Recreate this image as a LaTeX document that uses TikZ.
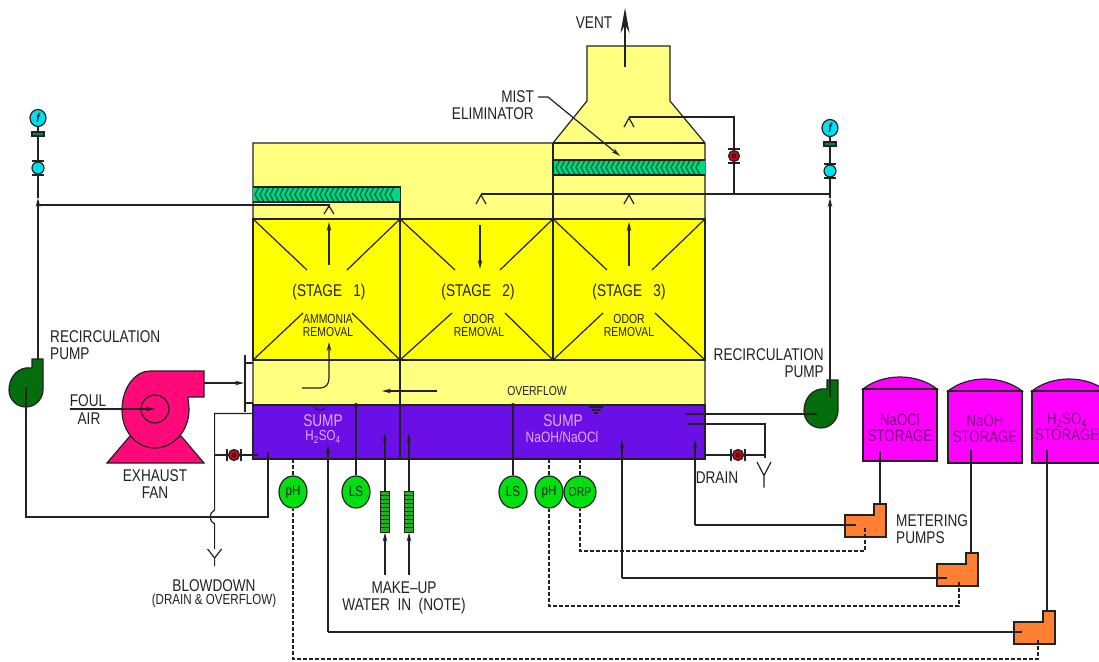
\documentclass[tikz,border=0pt]{standalone}
\usepackage{fontspec}
\setmainfont[FakeStretch=0.8]{Liberation Sans}
\usepackage{tikz}
\usetikzlibrary{arrows.meta,positioning,shapes.geometric}
\definecolor{palebody}{HTML}{FFFF80}
\definecolor{stagefill}{HTML}{FFFF00}
\definecolor{sumpfill}{HTML}{6A10E6}
\definecolor{sumptext}{HTML}{E8A8FF}
\definecolor{pumpgreen}{HTML}{046E0C}
\definecolor{fanpink}{HTML}{FF0A78}
\definecolor{tankfill}{HTML}{FF00FF}
\definecolor{tanktext}{HTML}{7A0A80}
\definecolor{meterfill}{HTML}{FF8033}
\definecolor{instgreen}{HTML}{00E010}
\definecolor{strainergreen}{HTML}{20B020}
\definecolor{flowcyan}{HTML}{00E0F0}
\definecolor{mistfill}{HTML}{00D880}
\definecolor{mistdark}{HTML}{006A40}
\definecolor{valvered}{HTML}{C00818}
\definecolor{inkline}{HTML}{222222}
\newcommand{\pt}[1]{\fontsize{#1}{#1}\selectfont}
\tikzset{
  recircpump/.pic={
    \draw[pipe,fill=pumpgreen] (43,359) -- (32,359) -- (32,368) .. controls (18,366) and (9,377) .. (9,390) .. controls (9,400) and (17,407) .. (26,407) .. controls (36,407) and (43,398) .. (43,390) -- cycle;
  },
  inlinevalve/.pic={
    \draw[pipe,fill=valvered] (0,0) circle[radius=5.5pt];
    \draw[line width=.5pt,fill=valvered!70!black] (0,0) circle[radius=2pt];
    \draw[pipe] (-6,-7) -- (6,-7) (-6,7) -- (6,7);
  },
  meterpump/.pic={
    \draw[pipe,fill=meterfill] (0,11) -- (29,11) -- (29,0) -- (41,0) -- (41,33) -- (0,33) -- cycle;
  },
  drainy/.pic={
    \draw[pipe] (-7,0) -- (0,9) -- (7,0) (0,9) -- (0,17);
  }
}
\begin{document}
\begin{tikzpicture}[x=1pt,y=-1pt, >=Stealth, font=\pt{17},
  every node/.style={text=inkline,inner sep=0pt,align=center},
  pipe/.style={draw=inkline,line width=1.2pt},
  signal/.style={pipe,dash pattern=on 4pt off 2pt},
  flow/.style={pipe,-{Stealth[length=9pt,width=4.5pt]}},
  small/.style={font=\pt{13}},
  sumplabel/.style={text=sumptext},
  inst/.style={ellipse,draw=inkline,line width=1.2pt,fill=instgreen,minimum width=28pt,minimum height=32pt,font=\pt{14.5}},
  tanklabel/.style={text=tanktext,font=\pt{16.5}},
]
\path[use as bounding box,clip] (0,0) rectangle (1099,661);
\fill[white] (0,0) rectangle (1099,661);

% tower body
\draw[pipe,fill=palebody] (253,143) -- (553,143) -- (587,101) -- (587,46) -- (670,46) -- (670,101) -- (705,143) -- (705,405) -- (253,405) -- cycle;
\draw[pipe,fill=stagefill] (253,219) rectangle (705,360);
\draw[pipe,fill=sumpfill] (253,405) rectangle (705,459);
\draw[pipe] (553,143) -- (705,143);
\draw[pipe,line width=1.5pt] (553,143) -- (553,360);
\draw[pipe] (400,186) -- (400,459);

% mist eliminators
\fill[mistfill] (253,187) rectangle (400,202);
\foreach \x in {255,260,...,392} \draw[mistdark,line width=1.4pt] (\x+4,187) -- (\x,194.5) -- (\x+4,202);
\draw[pipe] (253,187) -- (400,187) (253,202) -- (400,202);
\fill[mistfill] (554,160) rectangle (705,175);
\foreach \x in {556,561,...,696} \draw[mistdark,line width=1.4pt] (\x+4,160) -- (\x,167.5) -- (\x+4,175);
\draw[pipe] (554,160) -- (705,160) (554,175) -- (705,175);

% packing diagonals
\foreach \xa/\xb/\xc/\xd/\xe/\xf in {253/307/303/400/347/352,400/455/452/553/500/505,553/607/603/705/652/655} {
  \draw[pipe] (\xa,219) -- (\xb,270) (\xd,219) -- (\xe,270) (\xa,360) -- (\xc,313) (\xd,360) -- (\xf,313);
}

% labels inside the tower
\node (stageone) at (329,292) {(STAGE\ \ \ 1)};
\node (stagetwo) at (478,292) {(STAGE\ \ \ 2)};
\node (stagethree) at (629,292) {(STAGE\ \ \ 3)};
\node[small] (ammonia) at (328,325.5) {AMMONIA\\REMOVAL};
\node[small] (odortwo) at (479,325.5) {ODOR\\REMOVAL};
\node[small] (odorthree) at (629,325.5) {ODOR\\REMOVAL};
\node[small] (overflow) at (537,391) {OVERFLOW};
\node[sumplabel] (sumpacid) at (323,421) {SUMP};
\node[sumplabel,font=\pt{14.5}] (acid) at (323,437) {H\textsubscript{2}SO\textsubscript{4}};
\node[sumplabel] (sumpbase) at (563,421) {SUMP};
\node[sumplabel,font=\pt{15}] (base) at (562,437) {NaOH/NaOCl};

% gas flow inside the tower
\draw[flow] (329,265) -- (329,222);
\draw[flow] (480,225) -- (480,269);
\draw[flow] (629,266) -- (629,222);
\draw[flow] (302,388) -- (320,388) .. controls (326,388) and (329,384) .. (329,378) -- (329,342);
\draw[flow] (437,391) -- (382,391);
\draw[pipe] (589,407) -- (603,407) (591.5,410) -- (600.5,410) (594,413) -- (598,413);
\draw[pipe] (314,407) .. controls (317,411) and (323,411) .. (326,407);
\draw[pipe,-{Stealth[length=25pt,width=9pt]}] (625,67) -- (625,8);
\node (vent) at (594,23) {VENT};

% spray headers
\coordinate (leftriser) at (38,205);
\coordinate (rightriser) at (830,194);
\coordinate (topvalve) at (734,156);
\draw[pipe] (leftriser) -- (329,205) -- (329,208);
\draw[pipe] (324,214) -- (329,206) -- (334,214);
\draw[pipe] (rightriser) -- (481,194);
\draw[pipe] (476,204) -- (481,195) -- (486,204);
\draw[pipe] (624,204) -- (629,195) -- (634,204);
\draw[pipe] (734,194) -- (topvalve) -- (734,117) -- (629,117);
\draw[pipe] (624,127) -- (629,118) -- (634,127);
\pic at (topvalve) {inlinevalve};

% left recirculation loop
\pic at (0,0) {recircpump};
\pic at (795,21) {recircpump};
\draw[flow] (38,359) -- (38,198);
\draw[pipe] (38,198) -- (38,126);
\draw[flow] (830,397) -- (830,198);
\draw[pipe] (830,198) -- (830,136);
\draw[pipe] (26,387) -- (26,517) -- (268,517) -- (268,452);
\draw[pipe] (685,414) -- (817,414);

% flow elements
\foreach \x/\ya/\yb/\yc/\yd/\name in {38/118/134/168/7/lefttop,830/128/144/171/7/righttop} {
  \node[ellipse,draw=inkline,line width=1.2pt,fill=flowcyan,minimum width=16pt,minimum height=17pt,font=\pt{13}\bfseries\itshape] (fe\name) at (\x,\ya) {f};
  \fill[pipe,fill=mistdark!80!flowcyan] (\x-6,\yb-2) rectangle (\x+6,\yb+2);
  \node[circle,draw=inkline,line width=1.2pt,fill=flowcyan,minimum size=12pt] (ro\name) at (\x,\yc) {};
  \draw[pipe] (\x-6,\yc-\yd) -- (\x+6,\yc-\yd) (\x-6,\yc+\yd) -- (\x+6,\yc+\yd);
}

% exhaust fan
\draw[pipe,fill=fanpink] (107,463) -- (204,463) -- (181,436) -- (130,436) -- cycle;
\fill[fanpink] (204,371) -- (150,371) .. controls (135,371) and (122,388) .. (122,410) .. controls (122,432) and (137,448) .. (155,448) .. controls (174,448) and (189,430) .. (189,410) .. controls (189,405) and (188,400) .. (188,397) -- (204,397) -- cycle;
\draw[pipe] (122,410) .. controls (122,388) and (135,371) .. (150,371) -- (204,371) -- (204,397) -- (188,397);
\draw[pipe] (122,410) .. controls (122,432) and (137,448) .. (155,448) .. controls (174,448) and (189,430) .. (189,410) .. controls (189,405) and (188,400) .. (188,397);
\node[circle,draw=inkline,line width=1.2pt,minimum size=28pt] (fanhub) at (155,409) {};
\draw[flow] (70,409) -- (155,409);
\draw[flow] (204,383) -- (244,383);
\draw[pipe] (245,355) -- (245,412) (245,363) -- (253,363) (245,403) -- (253,403);
\node (foul) at (88,401) {FOUL};
\node (air) at (89,419) {AIR};
\node (exhaust) at (155,484.5) {EXHAUST\\FAN};
\node[align=left,anchor=west] (pumpleft) at (50,345.5) {RECIRCULATION\\PUMP};
\node[align=right,anchor=east] (pumpright) at (824,363) {RECIRCULATION\\PUMP};
\node[align=right,anchor=east] (mist) at (534,105) {MIST\\ELIMINATOR};
\draw[pipe,-{Stealth[length=9pt,width=4.5pt]}] (538,97) -- (548,97) -- (620,156);

% blowdown and drain
\coordinate (lowvalve) at (234,455);
\coordinate (drainvalve) at (738,455);
\draw[pipe] (253,413.4) -- (214.6,413.4) -- (214.6,510) .. controls (208.6,513) and (208.6,521) .. (214.6,524) -- (214.6,549);
\draw[pipe] (258,455) -- (lowvalve) -- (214.6,455);
\pic[rotate=90] at (lowvalve) {inlinevalve};
\pic at (214.6,549) {drainy};
\node (blowdown) at (214,586) {BLOWDOWN};
\node[font=\pt{14.5}] (blowsub) at (214,601) {(DRAIN \& OVERFLOW)};
\draw[pipe] (687,424) -- (765,424) -- (765,458);
\draw[pipe] (705,455) -- (drainvalve) -- (765,455);
\pic[rotate=90] at (drainvalve) {inlinevalve};
\pic[yscale=1.5] at (764,462) {drainy};
\node (drain) at (717,478) {DRAIN};

% instruments
\node[inst] (phacid) at (293,492) {pH};
\node[inst] (lsacid) at (356,492) {LS};
\node[inst] (lsbase) at (513,492) {LS};
\node[inst] (phbase) at (549,492) {pH};
\node[inst,font=\pt{13}] (orp) at (580,492) {ORP};
\draw[pipe] (lsacid) -- (356,405);
\draw[pipe] (lsbase) -- (513,405);
\fill[inkline] (356,405) circle[radius=2pt] (513,405) circle[radius=2pt];
\draw[signal] (phacid) -- (293,459);
\draw[signal] (phbase) -- (549,459);
\draw[signal] (orp) -- (580,459);

% make-up water
\foreach \x/\name in {385/makeupa,409/makeupb} {
  \node[draw=inkline,line width=1pt,fill=strainergreen,minimum width=9pt,minimum height=41pt] (\name) at (\x,511.5) {};
  \foreach \y in {495,499,...,530} \draw[inkline,line width=.5pt] (\x-4.5,\y) -- (\x+4.5,\y);
  \draw[flow] (\x,575) -- (\name.south);
  \draw[flow] (\name.north) -- (\x,433);
}
\node (makeup) at (404,597.5) {MAKE–UP\\WATER\ \ IN\ \ (NOTE)};

% storage tanks
\foreach \xa/\xb/\ya/\yb/\name in {863/937/389/461/tanka,948/1022/391/463/tankb,1032/1106/391/463/tankc} {
  \draw[pipe,fill=tankfill] (\xa,\ya) .. controls (\xa+20,\ya-16) and (\xb-20,\ya-16) .. (\xb,\ya) -- cycle;
  \draw[pipe,fill=tankfill] (\xa,\ya) rectangle (\xb,\yb);
  \coordinate (\name) at (\xa,\yb);
}
\draw[pipe] (880,452) -- (880,510);
\draw[pipe] (971,450) -- (971,558);
\draw[pipe] (1047,450) -- (1047,615);
\node[tanklabel] (naocl) at (900,427.5) {NaOCl\\STORAGE};
\node[tanklabel] (naoh) at (985,429) {NaOH\\STORAGE};
\node[tanklabel] (acidtank) at (1067,427) {H\textsubscript{2}SO\textsubscript{4}\\STORAGE};

% metering pumps and dosing lines
\pic (metera) at (845,504) {meterpump};
\pic (meterb) at (937,553) {meterpump};
\pic (meterc) at (1014,611) {meterpump};
\draw[pipe] (856,525) -- (695,525);
\draw[flow] (695,525) -- (695,440);
\draw[pipe] (947,578) -- (622,578);
\draw[flow] (622,578) -- (622,440);
\draw[pipe] (1022,632) -- (328,632);
\draw[flow] (328,632) -- (328,445);
\draw[signal] (865,528) -- (865,551) -- (580,551) -- (orp);
\draw[signal] (959,582) -- (959,606) -- (549,606) -- (phbase);
\draw[signal] (1038,640) -- (1038,659) -- (293,659) -- (phacid);
\node[align=left,anchor=west] (metering) at (896,529) {METERING\\PUMPS};
\end{tikzpicture}
\end{document}
